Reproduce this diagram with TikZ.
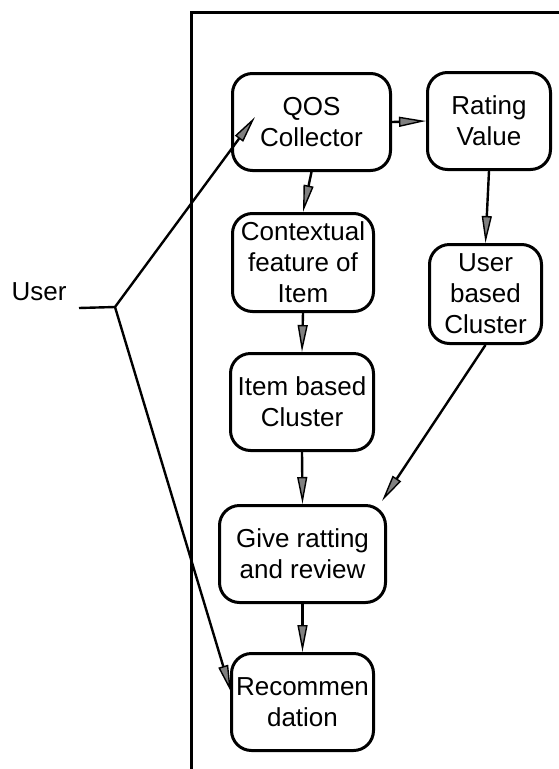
\documentclass[tikz,border=0pt]{standalone}
\usepackage{fontspec}
\setmainfont{Liberation Sans}
\usetikzlibrary{arrows.meta}
\tikzset{
  blok/.style={draw, line width=3pt, rounded corners=20pt, inner sep=0pt,
    align=center, font=\fontsize{26}{31}\selectfont},
  pijl/.style={line width=2.4pt,
    -{Triangle[length=27pt,width=10pt,fill=gray,line width=1.4pt]}}
}
\begin{document}
\begin{tikzpicture}[x=1pt,y=-1pt]
	\useasboundingbox (0,0) rectangle (559,769);
	% frame
	\draw[line width=3pt] (191,769) -- (191,12) -- (559,12);
	% boxes
	\node[blok, minimum width=158pt, minimum height=97pt] (qos) at (311.5,122) {QOS\\Collector};
	\node[blok, minimum width=123pt, minimum height=97pt] (rating) at (489,121) {Rating\\Value};
	\node[blok, minimum width=141pt, minimum height=98pt] (context) at (303,262.5) {Contextual\\feature of\\Item};
	\node[blok, minimum width=112pt, minimum height=99pt] (userc) at (485.5,294) {User\\based\\Cluster};
	\node[blok, minimum width=143pt, minimum height=97pt] (itemc) at (302,402) {Item based\\Cluster};
	\node[blok, minimum width=166pt, minimum height=97pt] (give) at (302.5,554) {Give ratting\\and review};
	\node[blok, minimum width=142pt, minimum height=97pt] (recom) at (302.5,702) {Recommen\\dation};
	\node[font=\fontsize{26}{31}\selectfont] (user) at (39,292) {User};
	% user lines
	\coordinate (ustart) at (79,308);
	\coordinate (split) at (115,307);
	\coordinate (qin) at (255,117);
	\coordinate (rin) at (231,692);
	\draw[line width=2.4pt] (ustart) -- (split);
	\draw[pijl] (split) -- (qin);
	\draw[pijl] (split) -- (rin);
	% flow
	\draw[pijl] (qos.east) -- (rating.west);
	\draw[pijl] (qos.south) -- (context.north);
	\draw[pijl] (rating.south) -- (userc.north);
	\draw[pijl] (context.south) -- (itemc.north);
	\draw[pijl] (itemc.south) -- (give.north);
	\draw[pijl] (userc.south) -- ([xshift=-5pt,yshift=3pt]give.north east);
	\draw[pijl] (give.south) -- (recom.north);
\end{tikzpicture}
\end{document}
